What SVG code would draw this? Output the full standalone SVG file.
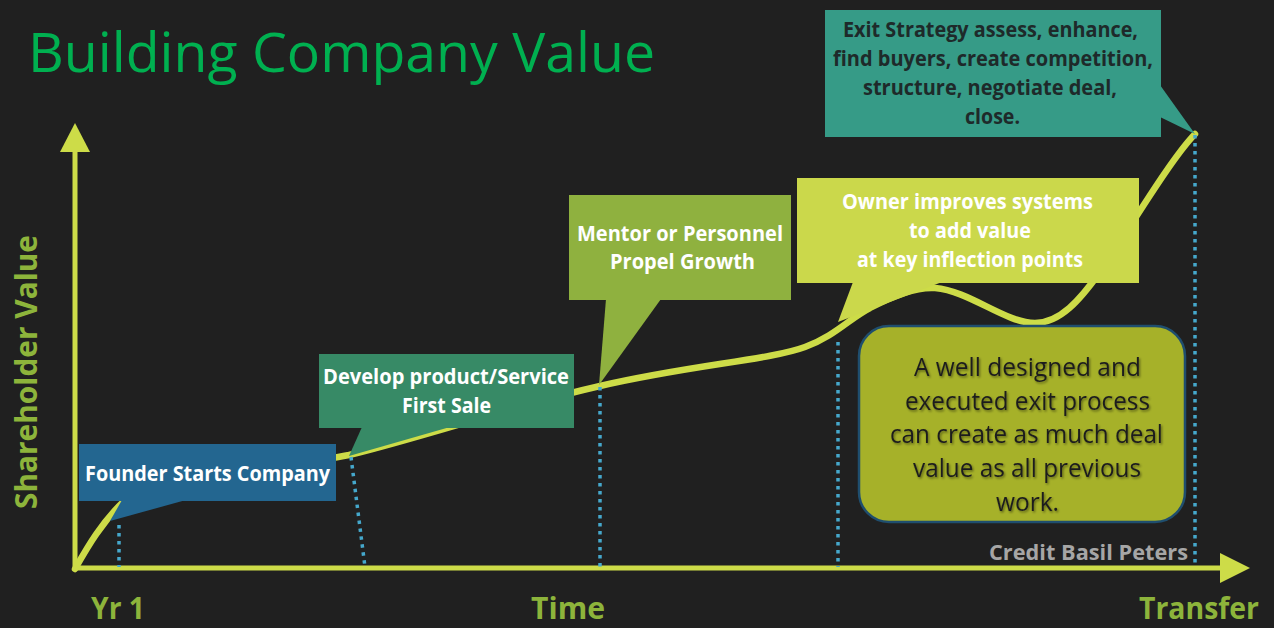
<svg xmlns="http://www.w3.org/2000/svg" width="1274" height="628" viewBox="0 0 1274 628">
<style>
.t{font-family:"Open Sans","Noto Sans","Liberation Sans",sans-serif;}
.b{font-weight:700;}
.w{fill:#ffffff;font-size:21px;font-weight:700;text-anchor:middle;}
.dk{fill:#1e2a2a;font-size:21px;font-weight:700;text-anchor:middle;}
.ax{fill:#8db43b;font-size:30px;font-weight:700;}
.dot{stroke:#45a8cc;stroke-width:3.5;stroke-dasharray:3.5 4.5;fill:none;}
.axis{stroke:#cddc48;stroke-width:5;fill:none;}
.note{fill:#1f1f1f;font-size:25px;text-anchor:middle;}
</style>
<defs>
<filter id="sh" x="-10%" y="-20%" width="120%" height="150%">
<feDropShadow dx="1.2" dy="1.5" stdDeviation="1" flood-color="#000" flood-opacity="0.45"/>
</filter>
</defs>
<rect width="1274" height="628" fill="#202020"/>
<text class="t" x="28" y="72" font-size="54" fill="#00b050" textLength="627" lengthAdjust="spacingAndGlyphs">Building Company Value</text>

<g id="axes">
<line class="axis" x1="75" y1="150" x2="75" y2="568"/>
<polygon points="75,123 60,152 90,152" fill="#cddc48"/>
<line class="axis" x1="73" y1="568" x2="1222" y2="568"/>
<polygon points="1250,568 1220,553 1220,583" fill="#cddc48"/>
<text class="t ax" transform="translate(37,372) rotate(-90)" text-anchor="middle" textLength="274" lengthAdjust="spacingAndGlyphs">Shareholder Value</text>
<text class="t ax" x="91" y="619" textLength="54" lengthAdjust="spacingAndGlyphs">Yr 1</text>
<text class="t ax" x="531" y="619" textLength="74" lengthAdjust="spacingAndGlyphs">Time</text>
<text class="t ax" x="1139" y="619" textLength="120" lengthAdjust="spacingAndGlyphs">Transfer</text>
</g>

<g id="connectors">
<path d="M75,569 C88,546 102,522 125,500 C170,478 280,468 349,455 C420,438 520,404 600,386 C690,365 770,360 805,347 C835,336 850,318 870,308 C900,292 920,287 935,288 C970,291 1005,323 1035,323 C1060,323 1080,300 1100,272 C1130,228 1170,160 1195,134" fill="none" stroke="#cddc48" stroke-width="6.5" stroke-linecap="round"/>
</g>

<g id="founder">
<polygon points="122,500 110,521 186,500" fill="#236690"/>
<rect x="79" y="444" width="257" height="57" fill="#236690"/>
<text class="t w" x="207.5" y="481" textLength="245" lengthAdjust="spacingAndGlyphs">Founder Starts Company</text>
</g>

<g id="develop">
<polygon points="362,427 349,456 450,427" fill="#378a66"/>
<rect x="319" y="354" width="255" height="74" fill="#378a66"/>
<text class="t w" x="446" y="384" textLength="246" lengthAdjust="spacingAndGlyphs">Develop product/Service</text>
<text class="t w" x="446.5" y="413" textLength="89" lengthAdjust="spacingAndGlyphs">First Sale</text>
</g>

<g id="mentor">
<polygon points="606,299 599,385 661,299" fill="#8fb13f"/>
<rect x="569" y="195" width="222" height="105" fill="#8fb13f"/>
<text class="t w" x="680" y="241" textLength="206" lengthAdjust="spacingAndGlyphs">Mentor or Personnel</text>
<text class="t w" x="682.5" y="269" textLength="145" lengthAdjust="spacingAndGlyphs">Propel Growth</text>
</g>

<g id="owner">
<polygon points="853,282 838,322 942,282" fill="#cbd84b"/>
<rect x="797" y="178" width="342" height="105" fill="#cbd84b"/>
<text class="t w" x="967.5" y="209" textLength="251" lengthAdjust="spacingAndGlyphs">Owner improves systems</text>
<text class="t w" x="970" y="238" textLength="122" lengthAdjust="spacingAndGlyphs">to add value</text>
<text class="t w" x="970" y="267" textLength="226" lengthAdjust="spacingAndGlyphs">at key inflection points</text>
</g>

<g id="exit">
<polygon points="1160,85 1195,134 1160,117" fill="#369b87"/>
<rect x="825" y="10" width="336" height="127" fill="#369b87"/>
<text class="t dk" x="990.5" y="37" textLength="295" lengthAdjust="spacingAndGlyphs">Exit Strategy assess, enhance,</text>
<text class="t dk" x="993" y="66" textLength="320" lengthAdjust="spacingAndGlyphs">find buyers, create competition,</text>
<text class="t dk" x="990" y="95" textLength="254" lengthAdjust="spacingAndGlyphs">structure, negotiate deal,</text>
<text class="t dk" x="992.5" y="124" textLength="55" lengthAdjust="spacingAndGlyphs">close.</text>
</g>

<g id="dotted">
<line class="dot" x1="119" y1="525" x2="119" y2="567"/>
<line class="dot" x1="351" y1="457" x2="365" y2="567"/>
<line class="dot" x1="600" y1="387" x2="600" y2="567"/>
<line class="dot" x1="838" y1="342" x2="838" y2="567"/>
<line class="dot" x1="1195" y1="135" x2="1195" y2="567"/>
</g>

<g id="note">
<rect x="859" y="326" width="326" height="196" rx="30" ry="30" fill="#a6b129" stroke="#1f4e6e" stroke-width="2.5"/>
<g filter="url(#sh)">
<text class="t note" x="1027.5" y="376" textLength="227" lengthAdjust="spacingAndGlyphs">A well designed and</text>
<text class="t note" x="1027.5" y="410" textLength="245" lengthAdjust="spacingAndGlyphs">executed exit process</text>
<text class="t note" x="1026.5" y="443" textLength="273" lengthAdjust="spacingAndGlyphs">can create as much deal</text>
<text class="t note" x="1027" y="477" textLength="228" lengthAdjust="spacingAndGlyphs">value as all previous</text>
<text class="t note" x="1027.5" y="511" textLength="63" lengthAdjust="spacingAndGlyphs">work.</text>
</g>
</g>

<g id="credit">
<text class="t b" x="1188" y="560" font-size="21" fill="#a6a6a6" text-anchor="end" textLength="199" lengthAdjust="spacingAndGlyphs">Credit Basil Peters</text>
</g>
</svg>
